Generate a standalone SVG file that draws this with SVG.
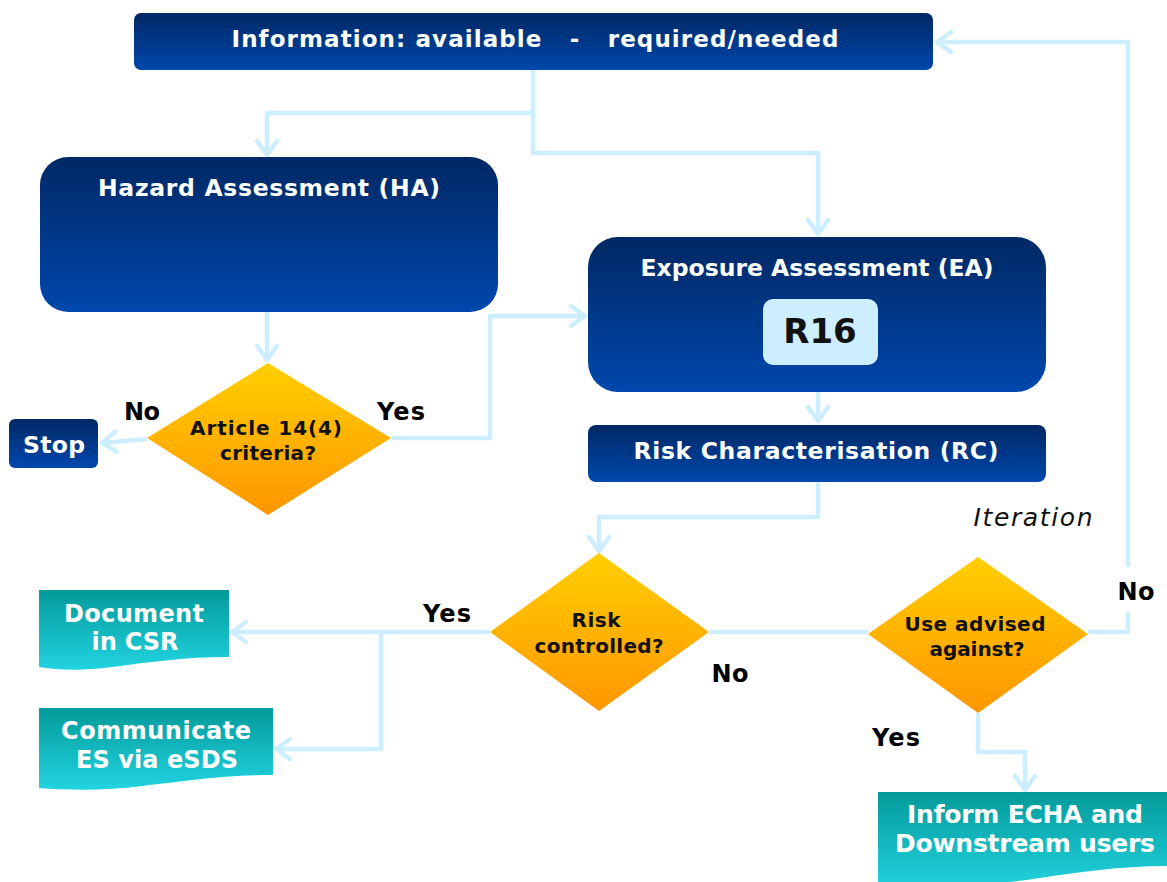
<svg xmlns="http://www.w3.org/2000/svg" width="1167" height="882" viewBox="0 0 1167 882">
<defs>
<linearGradient id="navy" x1="0" y1="0" x2="0" y2="1"><stop offset="0" stop-color="#002864"/><stop offset="1" stop-color="#0048ad"/></linearGradient>
<linearGradient id="gold" x1="0" y1="0" x2="0" y2="1"><stop offset="0" stop-color="#ffcf00"/><stop offset="1" stop-color="#ff9600"/></linearGradient>
<linearGradient id="teal" x1="0" y1="0" x2="0" y2="1"><stop offset="0" stop-color="#039a9a"/><stop offset="1" stop-color="#22d3e0"/></linearGradient>
<marker id="arr" markerUnits="userSpaceOnUse" markerWidth="30" markerHeight="30" viewBox="0 0 30 30" refX="24" refY="15" orient="auto" overflow="visible">
<path d="M10,5 L24,15 L10,25" fill="none" stroke="#cceeff" stroke-width="4.5" stroke-linecap="round" stroke-linejoin="round"/>
</marker>
<style>
.box{fill:url(#navy)}
.dia{fill:url(#gold)}
.doc{fill:url(#teal)}
.wt{font-family:"DejaVu Sans","Liberation Sans",sans-serif;font-weight:bold;fill:#ffffff;text-anchor:middle}
.bt{font-family:"DejaVu Sans","Liberation Sans",sans-serif;font-weight:bold;fill:#111111;text-anchor:middle}
.lbl{font-family:"DejaVu Sans","Liberation Sans",sans-serif;font-weight:bold;fill:#000000;font-size:24px;text-anchor:middle}
.conn path{fill:none;stroke:#cceeff;stroke-width:4.5;stroke-linejoin:round}
</style>
</defs>
<rect width="1167" height="882" fill="#ffffff"/>

<g class="conn" id="connectors">
<path d="M533,70 V113 H267 V155" marker-end="url(#arr)"/>
<path d="M533,113 V153 H818 V234" marker-end="url(#arr)"/>
<path d="M267,312 V360" marker-end="url(#arr)"/>
<path d="M391,438 H490 V316 H585" marker-end="url(#arr)"/>
<path d="M147,439 L102,443" marker-end="url(#arr)"/>
<path d="M818,392 V421" marker-end="url(#arr)"/>
<path d="M818,482 V517 H599 V551" marker-end="url(#arr)"/>
<path d="M490,632 H232" marker-end="url(#arr)"/>
<path d="M381,632 V749 H276" marker-end="url(#arr)"/>
<path d="M709,632 H868"/>
<path d="M1088,632 H1128 V612"/>
<path d="M1128,567 V42 H937" marker-end="url(#arr)"/>
<path d="M978,713 V752 H1025 V790" marker-end="url(#arr)"/>
</g>

<g id="info">
<rect class="box" x="134" y="13" width="799" height="57" rx="7"/>
<text class="wt" x="535" y="47" font-size="23" textLength="607" lengthAdjust="spacing" xml:space="preserve">Information: available   -   required/needed</text>
</g>

<g id="hazard">
<rect class="box" x="40" y="157" width="458" height="155" rx="28"/>
<text class="wt" x="269" y="196" font-size="23.5" textLength="342" lengthAdjust="spacing">Hazard Assessment (HA)</text>
</g>

<g id="exposure">
<rect class="box" x="588" y="237" width="458" height="155" rx="30"/>
<text class="wt" x="817" y="276" font-size="23.5" textLength="353" lengthAdjust="spacing">Exposure Assessment (EA)</text>
<rect x="763" y="299" width="115" height="66" rx="10" fill="#cceeff"/>
<text class="bt" x="820" y="343" font-size="34" fill="#000">R16</text>
</g>

<g id="rc">
<rect class="box" x="588" y="425" width="458" height="57" rx="8"/>
<text class="wt" x="816" y="459" font-size="23.5" textLength="365" lengthAdjust="spacing">Risk Characterisation (RC)</text>
</g>

<g id="stop">
<rect class="box" x="9" y="419" width="89" height="49" rx="6"/>
<text class="wt" x="54" y="453" font-size="23.5" textLength="62" lengthAdjust="spacing">Stop</text>
</g>

<g id="art14">
<polygon class="dia" points="268,363 391,438 268,515 147,438"/>
<text class="bt" x="266" y="435" font-size="20" textLength="152" lengthAdjust="spacing">Article 14(4)</text>
<text class="bt" x="268" y="460" font-size="20" textLength="96" lengthAdjust="spacing">criteria?</text>
</g>

<g id="riskctl">
<polygon class="dia" points="599,553 709,632 599,711 490,632"/>
<text class="bt" x="596" y="627" font-size="20" textLength="49" lengthAdjust="spacing">Risk</text>
<text class="bt" x="599" y="653" font-size="20" textLength="129" lengthAdjust="spacing">controlled?</text>
</g>

<g id="useadv">
<polygon class="dia" points="978,557 1088,634 978,713 868,634"/>
<text class="bt" x="975" y="631" font-size="20" textLength="141" lengthAdjust="spacing">Use advised</text>
<text class="bt" x="977" y="656" font-size="20" textLength="95" lengthAdjust="spacing">against?</text>
</g>

<g id="doc-csr">
<path class="doc" d="M39,590 H229 V657 C185,657 150,662 112,667 C82,671 58,670 39,667 Z"/>
<text class="wt" x="134" y="622" font-size="24" textLength="140" lengthAdjust="spacing">Document</text>
<text class="wt" x="135" y="650" font-size="24" textLength="87" lengthAdjust="spacing">in CSR</text>
</g>

<g id="communicate">
<path class="doc" d="M39,708 H273 V775 C222,775 185,781 142,786 C105,791 68,790 39,788 Z"/>
<text class="wt" x="156" y="739" font-size="24" textLength="190" lengthAdjust="spacing">Communicate</text>
<text class="wt" x="157" y="768" font-size="24" textLength="162" lengthAdjust="spacing">ES via eSDS</text>
</g>

<g id="inform">
<path class="doc" d="M878,792 H1170 V866 C1120,866 1080,872 1040,878 C1000,884 940,890 878,890 Z"/>
<text class="wt" x="1025" y="823" font-size="25" textLength="236" lengthAdjust="spacing">Inform ECHA and</text>
<text class="wt" x="1025" y="852" font-size="25" textLength="260" lengthAdjust="spacing">Downstream users</text>
</g>

<g id="labels">
<text class="lbl" x="142" y="420" textLength="36" lengthAdjust="spacing">No</text>
<text class="lbl" x="401" y="420" textLength="48" lengthAdjust="spacing">Yes</text>
<text class="lbl" x="447" y="622" textLength="48" lengthAdjust="spacing">Yes</text>
<text class="lbl" x="730" y="682" textLength="37" lengthAdjust="spacing">No</text>
<text class="lbl" x="1136" y="600" textLength="37" lengthAdjust="spacing">No</text>
<text class="lbl" x="896" y="746" textLength="48" lengthAdjust="spacing">Yes</text>
<text x="1033" y="526" font-family="DejaVu Sans, Liberation Sans, sans-serif" font-style="italic" font-size="25" fill="#111111" text-anchor="middle" textLength="119" lengthAdjust="spacing">Iteration</text>
</g>
</svg>
